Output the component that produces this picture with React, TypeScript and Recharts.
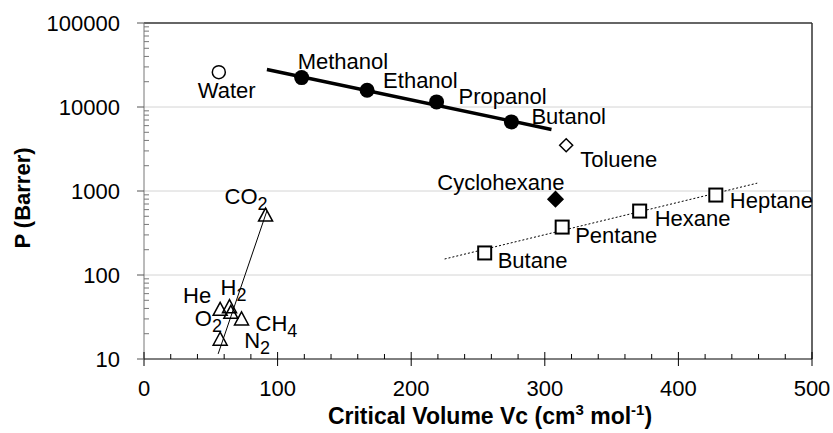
import { ScatterChart, Scatter, XAxis, YAxis, ReferenceLine, Label } from "recharts";

const FONT = '"Liberation Sans", Arial, Helvetica, sans-serif';

// water
const waterNames = ["Water"];
const waterVc = [56];
const waterP = [26000];

// alcohols + fitted line
const alcoholNames = ["Methanol", "Ethanol", "Propanol", "Butanol"];
const alcoholVc = [118, 167, 219, 275];
const alcoholP = [22400, 15800, 11500, 6650];
const alcoholFitVc = [92, 305];
const alcoholFitP = [27900, 5400];

// aromatic / cyclic
const tolueneNames = ["Toluene"];
const tolueneVc = [316];
const tolueneP = [3500];
const cycloNames = ["Cyclohexane"];
const cycloVc = [308];
const cycloP = [800];

// alkanes + fitted line
const alkaneNames = ["Butane", "Pentane", "Hexane", "Heptane"];
const alkaneVc = [255, 313, 371, 428];
const alkaneP = [183, 372, 577, 895];
const alkaneFitVc = [225, 459];
const alkaneFitP = [155, 1240];

// permanent gases + fitted line
const gasNames = ["CO2", "H2", "He", "O2", "CH4", "N2"];
const gasVc = [91, 64, 57, 65, 73, 57];
const gasP = [517, 42, 39, 36, 30, 17.2];
const gasFitVc = [55.5, 92];
const gasFitP = [11.5, 580];

const xMajorTicks = [0, 100, 200, 300, 400, 500];
const yMajorTicks = [10, 100, 1000, 10000, 100000];

const xTicks = xMajorTicks.flatMap((v, i) =>
  i < xMajorTicks.length - 1 ? [v, v + 20, v + 40, v + 60, v + 80] : [v]
);
const yTicks = yMajorTicks.flatMap((v, i) =>
  i < yMajorTicks.length - 1 ? [1, 2, 3, 4, 5, 6, 7, 8, 9].map((m) => m * v) : [v]
);

const zip = (names: string[], xs: number[], ys: number[]) =>
  xs.map((x, i) => ({ name: names[i] ?? "", x, y: ys[i] }));

const fit = (xs: number[], ys: number[]) => xs.map((x, i) => ({ name: "", x, y: ys[i] }));

// label placement relative to the marker: dx, dy (baseline), anchor
const labelOffsets: Record<string, [number, number, "start" | "end"]> = {
  Water: [-21, 26, "start"],
  Methanol: [-4, -9, "start"],
  Ethanol: [16, -2, "start"],
  Propanol: [22, 2, "start"],
  Butanol: [20, 2, "start"],
  Toluene: [14, 22, "start"],
  Cyclohexane: [9, -9, "end"],
  Butane: [13, 15, "start"],
  Pentane: [13, 16, "start"],
  Hexane: [15, 15, "start"],
  Heptane: [14, 13, "start"],
  CO2: [-41, -11, "start"],
  H2: [-9, -12, "start"],
  He: [-9, -6, "end"],
  O2: [-36, 14, "start"],
  CH4: [14, 12, "start"],
  N2: [24, 9, "start"],
};

function NameLabel({ cx, cy, name }: { cx: number; cy: number; name: string }) {
  const off = labelOffsets[name];
  if (!off) return null;
  const m = name.match(/^([A-Za-z]+?)(\d*)$/);
  const main = m ? m[1] : name;
  const sub = m ? m[2] : "";
  return (
    <text x={cx + off[0]} y={cy + off[1]} textAnchor={off[2]} fontSize={22} fontFamily={FONT} fill="#000">
      {main}
      {sub && (
        <tspan fontSize={18} dy={6}>
          {sub}
        </tspan>
      )}
    </text>
  );
}

const circleOpen = (p: any) => (
  <g>
    <circle cx={p.cx} cy={p.cy} r={6.5} fill="#fff" stroke="#000" strokeWidth={1.5} />
    <NameLabel cx={p.cx} cy={p.cy} name={p.payload.name} />
  </g>
);
const circleFilled = (p: any) => (
  <g>
    <circle cx={p.cx} cy={p.cy} r={7.5} fill="#000" />
    <NameLabel cx={p.cx} cy={p.cy} name={p.payload.name} />
  </g>
);
const diamond = (filled: boolean) => (p: any) => {
  const s = filled ? 7.5 : 6.5;
  return (
    <g>
      <path
        d={`M${p.cx},${p.cy - s}L${p.cx + s},${p.cy}L${p.cx},${p.cy + s}L${p.cx - s},${p.cy}Z`}
        fill={filled ? "#000" : "#fff"}
        stroke="#000"
        strokeWidth={1.5}
      />
      <NameLabel cx={p.cx} cy={p.cy} name={p.payload.name} />
    </g>
  );
};
const square = (p: any) => (
  <g>
    <rect x={p.cx - 6.5} y={p.cy - 6.5} width={13} height={13} fill="#fff" stroke="#000" strokeWidth={2} />
    <NameLabel cx={p.cx} cy={p.cy} name={p.payload.name} />
  </g>
);
const triangle = (p: any) => (
  <g>
    <path
      d={`M${p.cx},${p.cy - 7}L${p.cx + 7},${p.cy + 6}L${p.cx - 7},${p.cy + 6}Z`}
      fill="none"
      stroke="#000"
      strokeWidth={1.5}
    />
    <NameLabel cx={p.cx} cy={p.cy} name={p.payload.name} />
  </g>
);
const noShape = () => <g />;

function XTick({ x, y, payload }: any) {
  const v = payload.value;
  const major = v % 100 === 0;
  return (
    <g>
      <line x1={x} x2={x} y1={y - (major ? 7 : 5)} y2={major ? y + 7 : y} stroke="#000" strokeWidth={1} />
      {major && (
        <text x={x} y={y + 37} textAnchor="middle" fontSize={22} fontFamily={FONT} fill="#000">
          {v}
        </text>
      )}
    </g>
  );
}

function YTick({ x, y, payload }: any) {
  const v = payload.value;
  const lg = Math.log10(v);
  const major = Math.abs(lg - Math.round(lg)) < 1e-9;
  return (
    <g>
      {major ? (
        <line x1={x - 7} x2={x} y1={y} y2={y} stroke="#555" strokeWidth={1} />
      ) : (
        <line x1={x} x2={x + 5} y1={y} y2={y} stroke="#777" strokeWidth={1} />
      )}
      {major && (
        <text x={x - 24} y={y + 8} textAnchor="end" fontSize={22} fontFamily={FONT} fill="#000">
          {v}
        </text>
      )}
    </g>
  );
}

export default function App() {
  return (
    <div style={{ position: "absolute", left: 0, top: 0, background: "#fff" }}>
      <ScatterChart width={833} height={433} margin={{ top: 23, right: 21, bottom: 0, left: 0 }}>
        <XAxis
          type="number"
          dataKey="x"
          domain={[0, 500]}
          ticks={xTicks}
          interval={0}
          tick={<XTick />}
          tickSize={0}
          tickMargin={0}
          tickLine={false}
          axisLine={{ stroke: "#000", strokeWidth: 1 }}
          height={74}
        >
          <Label
            content={() => (
              <text x={490} y={424} textAnchor="middle" fontSize={23} fontWeight="bold" fontFamily={FONT} fill="#000">
                Critical Volume Vc (cm
                <tspan fontSize={15} dy={-9}>3</tspan>
                <tspan dy={9}> mol</tspan>
                <tspan fontSize={15} dy={-9}>-1</tspan>
                <tspan dy={9}>)</tspan>
              </text>
            )}
          />
        </XAxis>
        <YAxis
          type="number"
          dataKey="y"
          scale="log"
          domain={[10, 100000]}
          allowDataOverflow
          ticks={yTicks}
          interval={0}
          tick={<YTick />}
          tickSize={0}
          tickMargin={0}
          tickLine={false}
          axisLine={{ stroke: "#777", strokeWidth: 1 }}
          width={144}
        >
          <Label
            content={() => (
              <text
                x={22}
                y={198}
                transform="rotate(-90, 22, 198)"
                textAnchor="middle"
                dominantBaseline="central"
                fontSize={22}
                fontWeight="bold"
                fontFamily={FONT}
                fill="#000"
              >
                P (Barrer)
              </text>
            )}
          />
        </YAxis>

        <ReferenceLine y={100} stroke="#d4d4d4" strokeWidth={1} />
        <ReferenceLine y={1000} stroke="#d4d4d4" strokeWidth={1} />
        <ReferenceLine y={10000} stroke="#d4d4d4" strokeWidth={1} />
        <ReferenceLine y={100000} stroke="#333" strokeWidth={1.5} />
        <ReferenceLine x={500} stroke="#333" strokeWidth={1.5} />

        <Scatter data={fit(alcoholFitVc, alcoholFitP)} line={{ stroke: "#000", strokeWidth: 3.5 }} shape={noShape} isAnimationActive={false} />
        <Scatter data={fit(alkaneFitVc, alkaneFitP)} line={{ stroke: "#000", strokeWidth: 1, strokeDasharray: "2 2" }} shape={noShape} isAnimationActive={false} />
        <Scatter data={fit(gasFitVc, gasFitP)} line={{ stroke: "#000", strokeWidth: 1 }} shape={noShape} isAnimationActive={false} />

        <Scatter data={zip(waterNames, waterVc, waterP)} shape={circleOpen} isAnimationActive={false} />
        <Scatter data={zip(alcoholNames, alcoholVc, alcoholP)} shape={circleFilled} isAnimationActive={false} />
        <Scatter data={zip(tolueneNames, tolueneVc, tolueneP)} shape={diamond(false)} isAnimationActive={false} />
        <Scatter data={zip(cycloNames, cycloVc, cycloP)} shape={diamond(true)} isAnimationActive={false} />
        <Scatter data={zip(alkaneNames, alkaneVc, alkaneP)} shape={square} isAnimationActive={false} />
        <Scatter data={zip(gasNames, gasVc, gasP)} shape={triangle} isAnimationActive={false} />
      </ScatterChart>
    </div>
  );
}
